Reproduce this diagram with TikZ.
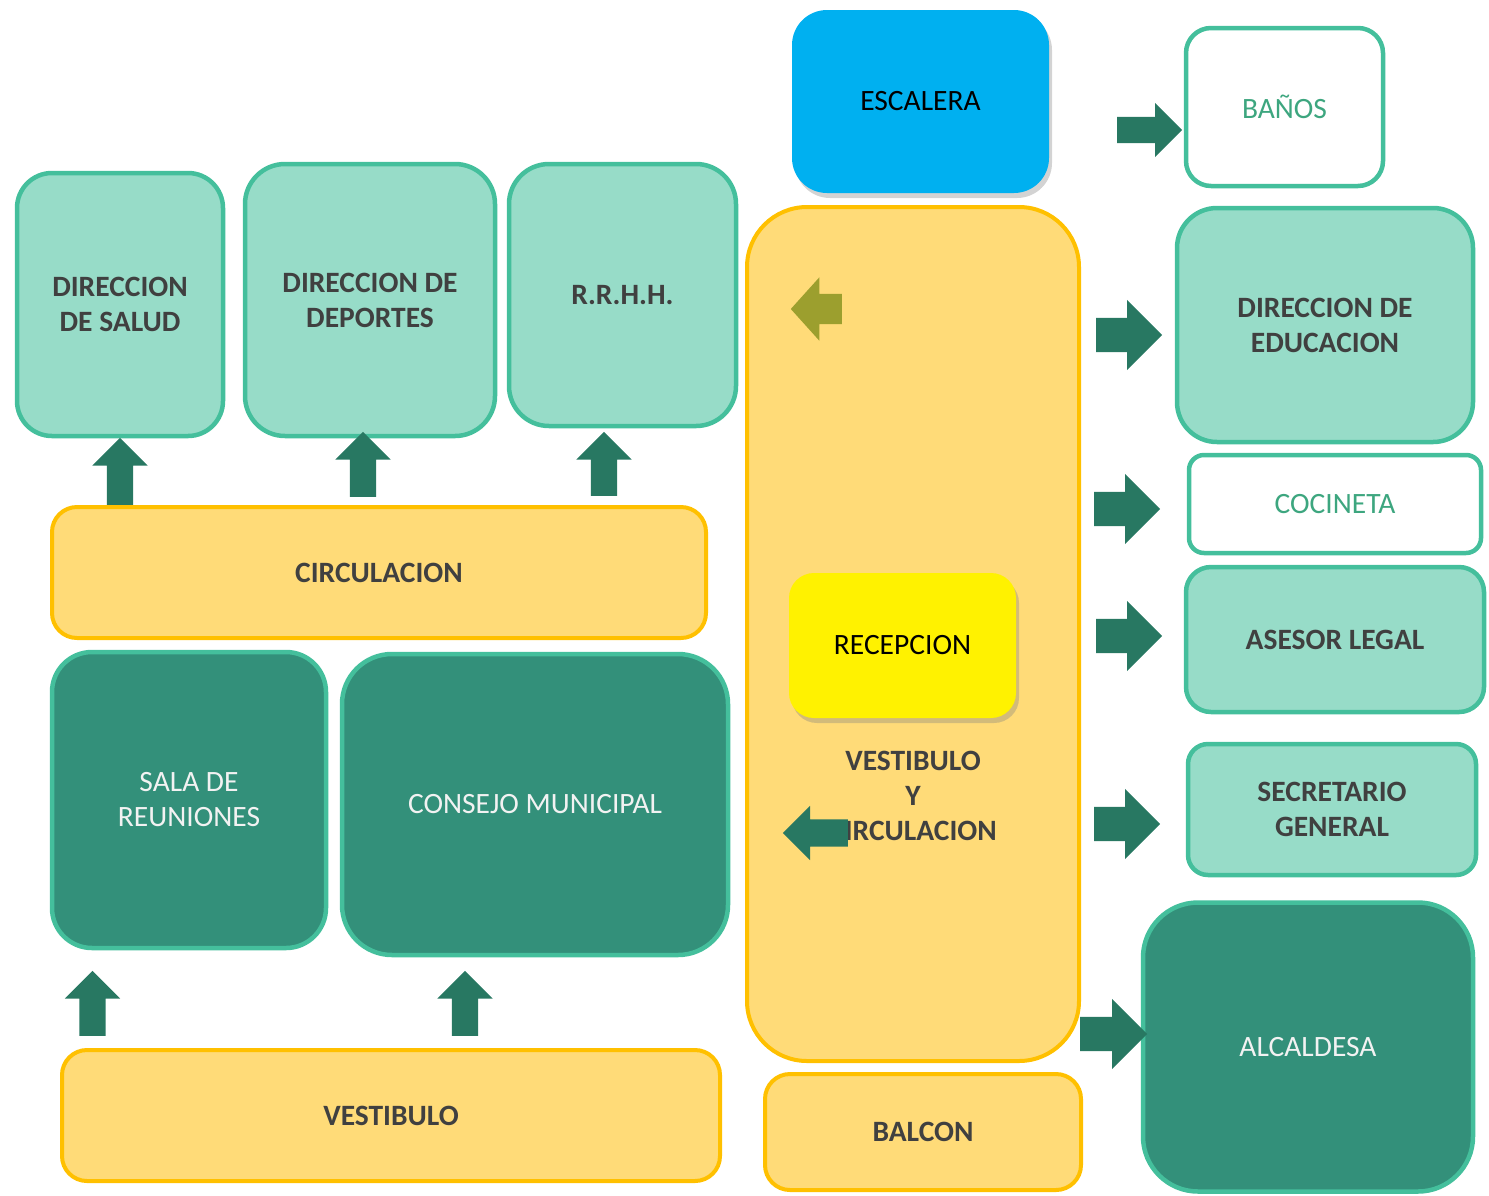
\documentclass[tikz,border=0pt]{standalone}
\usepackage{fontspec}
\setmainfont{Carlito}
\usetikzlibrary{shapes.arrows,shadows}

\definecolor{verdeclaro}{HTML}{97DCC8}
\definecolor{bordeverde}{HTML}{44BF9C}
\definecolor{verdeoscuro}{HTML}{33907A}
\definecolor{flecha}{HTML}{287862}
\definecolor{amarillo}{HTML}{FFDB78}
\definecolor{bordeamarillo}{HTML}{FFC000}
\definecolor{textogris}{HTML}{404040}
\definecolor{textoverde}{HTML}{3DA67F}
\definecolor{celeste}{HTML}{00B0F0}
\definecolor{oliva}{HTML}{9C9F2E}
\definecolor{blanquito}{HTML}{F2F2F2}

\tikzset{
	caja/.style={rounded corners=30pt, align=center, inner sep=0pt},
	claro/.style={caja, fill=verdeclaro, draw=bordeverde, line width=4.5pt, text=textogris, font=\fontsize{29.5}{35}\selectfont\bfseries},
	blanco/.style={caja, fill=white, draw=bordeverde, line width=4.5pt, text=textoverde, font=\fontsize{29.5}{35}\selectfont},
	oscuro/.style={caja, rounded corners=45pt, fill=verdeoscuro, draw=bordeverde, line width=4.5pt, text=blanquito, font=\fontsize{29.5}{35}\selectfont},
	pasillo/.style={caja, rounded corners=25pt, fill=amarillo, draw=bordeamarillo, line width=4pt, text=textogris, font=\fontsize{29.5}{35}\selectfont\bfseries},
	sombreada/.style={caja, drop shadow={shadow xshift=3pt, shadow yshift=-5pt, opacity=0.35}, text=black, font=\fontsize{29.5}{35}\selectfont},
	flechabase/.style={single arrow, fill=flecha, anchor=tail},
	arriba/.style={flechabase, inner sep=13pt, single arrow head extend=14.5pt, minimum height=65pt, shape border rotate=90},
	derecha/.style={flechabase, inner sep=17pt, single arrow head extend=18pt, minimum height=66pt},
}

\begin{document}
\begin{tikzpicture}[x=1pt,y=-1pt]
	\useasboundingbox (0,0) rectangle (1489,1195);

	\node[claro, minimum width=206pt, minimum height=263pt, rounded corners=35pt] (salud) at (120,304.5) {DIRECCION\\DE SALUD};
	\node[claro, minimum width=250pt, minimum height=272pt, rounded corners=40pt] (deportes) at (370,300) {DIRECCION DE\\DEPORTES};
	\node[claro, minimum width=227pt, minimum height=262pt, rounded corners=40pt] (rrhh) at (622.5,295) {R.R.H.H.};
	\node[pasillo, minimum width=654pt, minimum height=131pt] (circ) at (379,572.5) {CIRCULACION};
	\node[oscuro, minimum width=274pt, minimum height=296pt, rounded corners=40pt] (sala) at (189,800) {SALA DE\\REUNIONES};
	\node[oscuro, minimum width=386pt, minimum height=301pt, rounded corners=50pt] (consejo) at (535,804.5) {CONSEJO MUNICIPAL};
	\node[pasillo, minimum width=658pt, minimum height=131pt] (vest) at (391,1115.5) {VESTIBULO};

	\node[sombreada, fill=celeste, minimum width=257pt, minimum height=183pt, rounded corners=35pt] (escalera) at (920.5,101.5) {ESCALERA};
	\node[pasillo, minimum width=332pt, minimum height=854pt, rounded corners=60pt] (vyc) at (913,634) {};
	\node[sombreada, fill=yellow, minimum width=227pt, minimum height=145pt, rounded corners=25pt] (recep) at (902.5,645.5) {RECEPCION};
	\node[text=textogris, align=center, font=\fontsize{29.5}{35}\selectfont\bfseries] (vyctxt) at (913,796) {VESTIBULO\\Y\\CIRCULACION};
	\node[pasillo, minimum width=316pt, minimum height=116pt] (balcon) at (923,1132) {BALCON};

	\node[blanco, minimum width=197pt, minimum height=158pt, rounded corners=25pt] (banos) at (1284.5,107) {BAÑOS};
	\node[claro, minimum width=296pt, minimum height=234pt, rounded corners=40pt] (educ) at (1325,325) {DIRECCION DE\\EDUCACION};
	\node[blanco, minimum width=292pt, minimum height=98pt, rounded corners=15pt] (cocina) at (1335,504) {COCINETA};
	\node[claro, minimum width=298pt, minimum height=145pt, rounded corners=25pt] (asesor) at (1335,639.5) {ASESOR LEGAL};
	\node[claro, minimum width=288pt, minimum height=131pt, rounded corners=20pt] (secre) at (1332,809.5) {SECRETARIO\\GENERAL};
	\node[oscuro, minimum width=330pt, minimum height=289pt, rounded corners=55pt] (alcaldesa) at (1308,1047) {ALCALDESA};

	\node[arriba, minimum height=67pt] (f1) at (120,505) {};
	\node[arriba] (f2) at (363,497) {};
	\node[arriba, minimum height=64pt] (f3) at (604,496) {};
	\node[arriba] (f4) at (92.5,1036) {};
	\node[arriba] (f5) at (465,1036) {};

	\node[derecha, inner sep=13pt, single arrow head extend=14pt, minimum height=65pt] (f6) at (1117,130) {};
	\node[derecha] (f7) at (1096,335) {};
	\node[derecha] (f8) at (1094,509) {};
	\node[derecha] (f9) at (1096,636) {};
	\node[derecha] (f10) at (1094,824) {};
	\node[derecha, minimum height=67pt] (f11) at (1080,1034) {};

	\node[flechabase, fill=oliva, inner sep=15pt, single arrow head extend=16.5pt, single arrow tip angle=96, minimum height=51pt, shape border rotate=180] (f12) at (842,309) {};
	\node[flechabase, inner sep=13.5pt, single arrow head extend=13.5pt, minimum height=65pt, shape border rotate=182] (f13) at (848,833) {};
\end{tikzpicture}
\end{document}
